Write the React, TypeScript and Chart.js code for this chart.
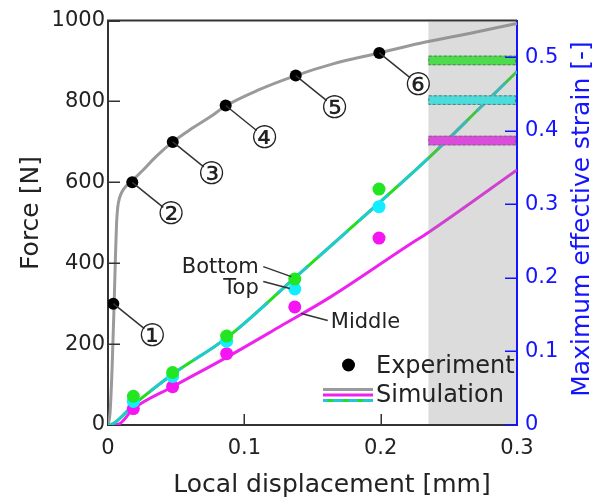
import React, { useEffect, useRef } from 'react';
import { Chart, registerables } from 'chart.js';

Chart.register(...registerables);

// ---- Data ----
// Force-displacement simulation (grey curve), left axis
const simDisp = [0, 0.0015, 0.003, 0.0045, 0.0055, 0.0063, 0.0072, 0.0085, 0.0105, 0.013, 0.018, 0.025, 0.035, 0.0475, 0.06, 0.075, 0.0863, 0.11, 0.1377, 0.165, 0.199, 0.229, 0.265, 0.3];
const simForce = [0, 30, 140, 300, 420, 500, 540, 562, 578, 590, 605, 628, 663, 700, 730, 762, 789, 828, 864, 893, 920, 944, 968, 993];

// Force-displacement experiment points
const expDisp = [0.0039, 0.0178, 0.0475, 0.0863, 0.1377, 0.199];
const expForce = [300, 600, 700, 790, 864, 920];
const expMarkers = ['①', '②', '③', '④', '⑤', '⑥'];

// Strain experiment points, right axis
const strainDisp = [0.0186, 0.0474, 0.087, 0.137, 0.1988];
const strainBottom = [0.039, 0.0714, 0.121, 0.1985, 0.321];
const strainTop = [0.032, 0.066, 0.114, 0.185, 0.297];
const strainMiddle = [0.0224, 0.0522, 0.097, 0.1606, 0.2543];

// Strain simulation curves, right axis
const simStrainDisp = [0, 0.004, 0.0186, 0.0474, 0.087, 0.136, 0.1848, 0.235, 0.2753, 0.3];
const simStrainBottom = [0, 0.002, 0.027, 0.069, 0.1185, 0.1985, 0.279, 0.363, 0.436, 0.481];
const simStrainTop = [0, 0.002, 0.027, 0.069, 0.1185, 0.1985, 0.279, 0.363, 0.436, 0.481];
const simMidDisp = [0, 0.0075, 0.0186, 0.0474, 0.087, 0.1262, 0.163, 0.2215, 0.235, 0.3];
const simStrainMiddle = [0, 0.001, 0.022, 0.052, 0.092, 0.134, 0.174, 0.246, 0.262, 0.347];

// Shaded region and strain bands inside it
const shadeFrom = 0.235;
const shadeTo = 0.3;
const bandLevels = [0.496, 0.442, 0.387];
const bandHalf = 0.0065;

// Ticks
const xTicks = [0, 0.1, 0.2, 0.3];
const yTicks = [0, 200, 400, 600, 800, 1000];
const y2Ticks = [0, 0.1, 0.2, 0.3, 0.4, 0.5];
const y2Max = 0.5502;

const FONT = "'DejaVu Sans', Verdana, sans-serif";
const TEXT = '#222222';
const BLUE = '#1414ff';
const GREEN_DOT = '#22e622';
const CYAN_DOT = '#12eeff';
const MAG_DOT = '#f414f4';
const GREEN_LINE = '#22dd22';
const CYAN_LINE = '#22c8d2';
const MAG_LINE = '#ee22ee';
const GREY_LINE = '#9a9a9a';
const BAND_COLORS = ['#4cdc4c', '#4cdcdc', '#dc4cdc'];

const pts = (xs: number[], ys: number[]) => xs.map((x, i) => ({ x, y: ys[i] }));
const fmt = (v: number) => String(Number(v.toFixed(1)));

const deco = {
  id: 'deco',
  afterDatasetsDraw(chart: any) {
    const { ctx, chartArea: ca, scales } = chart;
    const xs = scales.x, ys = scales.y, y2 = scales.y2;
    ctx.save();

    // shaded region overlay
    const sx = xs.getPixelForValue(shadeFrom);
    const ex = xs.getPixelForValue(shadeTo);
    ctx.fillStyle = 'rgba(140,140,140,0.3)';
    ctx.fillRect(sx, ca.top + 1, ex - 1 - sx, ca.bottom - ca.top - 2);

    // bands
    bandLevels.forEach((lv, i) => {
      const t = y2.getPixelForValue(lv + bandHalf);
      const b = y2.getPixelForValue(lv - bandHalf);
      ctx.fillStyle = BAND_COLORS[i];
      ctx.fillRect(sx, t, ex - 1 - sx, b - t);
      ctx.setLineDash([3, 2]);
      ctx.strokeStyle = '#707070';
      ctx.lineWidth = 1;
      ctx.strokeRect(sx + 0.5, t + 0.5, ex - 2 - sx, b - t - 1);
      ctx.setLineDash([]);
    });

    // top border
    ctx.strokeStyle = '#333';
    ctx.lineWidth = 2;
    ctx.beginPath();
    ctx.moveTo(ca.left - 1, ca.top);
    ctx.lineTo(ca.right, ca.top);
    ctx.stroke();

    // inward tick marks
    ctx.lineWidth = 1.5;
    ctx.strokeStyle = '#333';
    yTicks.forEach((v) => {
      const p = Math.round(ys.getPixelForValue(v)) + 0.25;
      if (v === 0) return;
      ctx.beginPath(); ctx.moveTo(ca.left, p); ctx.lineTo(ca.left + 12, p); ctx.stroke();
    });
    xTicks.forEach((v) => {
      if (v === 0 || v === 0.3) return;
      const p = Math.round(xs.getPixelForValue(v)) + 0.25;
      ctx.beginPath(); ctx.moveTo(p, ca.bottom); ctx.lineTo(p, ca.bottom - 11); ctx.stroke();
    });
    ctx.strokeStyle = BLUE;
    y2Ticks.forEach((v) => {
      const p = Math.round(y2.getPixelForValue(v)) + (v === 0 ? 0 : 0.25);
      ctx.beginPath(); ctx.moveTo(ca.right, p); ctx.lineTo(ca.right - 12, p); ctx.stroke();
    });

    // leader lines + circled markers
    ctx.strokeStyle = '#333';
    ctx.lineWidth = 1.5;
    ctx.fillStyle = TEXT;
    ctx.font = `31px ${FONT}`;
    ctx.textAlign = 'center';
    ctx.textBaseline = 'middle';
    expDisp.forEach((d, i) => {
      const px = xs.getPixelForValue(d);
      const py = ys.getPixelForValue(expForce[i]);
      const cx = px + 39, cy = py + 33;
      ctx.beginPath(); ctx.moveTo(px, py); ctx.lineTo(cx - 8, cy - 8); ctx.stroke();
      ctx.fillText(expMarkers[i], cx, cy + 1);
    });

    // Bottom / Top / Middle labels
    const bx = xs.getPixelForValue(strainDisp[3]);
    const gy = y2.getPixelForValue(strainBottom[3]);
    const cyy = y2.getPixelForValue(strainTop[3]);
    const my = y2.getPixelForValue(strainMiddle[3]);
    ctx.font = `21px ${FONT}`;
    ctx.textBaseline = 'alphabetic';
    ctx.beginPath(); ctx.moveTo(bx - 31.5, gy - 12.5); ctx.lineTo(bx - 3.5, gy - 2.5); ctx.stroke();
    ctx.beginPath(); ctx.moveTo(bx - 31.5, cyy - 7.5); ctx.lineTo(bx - 5, cyy - 0.5); ctx.stroke();
    ctx.beginPath(); ctx.moveTo(bx + 6.5, my + 6.5); ctx.lineTo(bx + 33, my + 13.5); ctx.stroke();
    ctx.textAlign = 'right';
    ctx.fillText('Bottom', bx - 36, gy - 6.5);
    ctx.fillText('Top', bx - 36, cyy + 4.5);
    ctx.textAlign = 'left';
    ctx.fillText('Middle', bx + 36, my + 21.5);

    // legend
    ctx.font = `24px ${FONT}`;
    ctx.fillStyle = '#000';
    ctx.beginPath(); ctx.arc(348.5, 365, 6.5, 0, Math.PI * 2); ctx.fill();
    ctx.fillStyle = TEXT;
    ctx.fillText('Experiment', 376, 373);
    ctx.fillText('Simulation', 376, 402);
    ctx.lineWidth = 3.2;
    const lx0 = 323, lx1 = 373;
    ctx.strokeStyle = GREY_LINE;
    ctx.beginPath(); ctx.moveTo(lx0, 389.5); ctx.lineTo(lx1, 389.5); ctx.stroke();
    ctx.strokeStyle = MAG_LINE;
    ctx.beginPath(); ctx.moveTo(lx0, 395); ctx.lineTo(lx1, 395); ctx.stroke();
    ctx.strokeStyle = CYAN_LINE;
    ctx.beginPath(); ctx.moveTo(lx0, 400.5); ctx.lineTo(lx1, 400.5); ctx.stroke();
    ctx.strokeStyle = GREEN_LINE;
    ctx.setLineDash([5, 10]);
    ctx.lineDashOffset = -5;
    ctx.beginPath(); ctx.moveTo(lx0, 400.5); ctx.lineTo(lx1, 400.5); ctx.stroke();
    ctx.setLineDash([]);

    // axis titles
    ctx.font = `25px ${FONT}`;
    ctx.fillStyle = TEXT;
    ctx.textAlign = 'center';
    ctx.textBaseline = 'alphabetic';
    ctx.fillText('Local displacement [mm]', 332, 491.5);
    ctx.save();
    ctx.translate(38, 213);
    ctx.rotate(-Math.PI / 2);
    ctx.fillText('Force [N]', 0, 0);
    ctx.restore();
    ctx.save();
    ctx.fillStyle = BLUE;
    ctx.translate(589, 219);
    ctx.rotate(-Math.PI / 2);
    ctx.fillText('Maximum effective strain [-]', 0, 0);
    ctx.restore();

    ctx.restore();
  },
};

export default function App() {
  const ref = useRef<HTMLCanvasElement | null>(null);
  useEffect(() => {
    if (!ref.current) return;
    Chart.defaults.font.family = FONT;
    const lineDs = (label: string, data: any[], color: string, axis: string, order: number, extra: any = {}) => ({
      label, data, borderColor: color, backgroundColor: color, borderWidth: 3, pointRadius: 0,
      cubicInterpolationMode: 'monotone', yAxisID: axis, order, ...extra,
    });
    const dotDs = (label: string, data: any[], color: string, axis: string, order: number, r: number) => ({
      label, data, showLine: false, backgroundColor: color, borderColor: color, borderWidth: 0,
      pointRadius: r, pointHoverRadius: r, yAxisID: axis, order,
    });
    const chart = new Chart(ref.current, {
      type: 'line',
      data: {
        datasets: [
          lineDs('Simulation force', pts(simDisp, simForce), GREY_LINE, 'y', 20),
          lineDs('Simulation middle', pts(simMidDisp, simStrainMiddle), MAG_LINE, 'y2', 19),
          lineDs('Simulation bottom', pts(simStrainDisp, simStrainBottom), GREEN_LINE, 'y2', 18),
          lineDs('Simulation top', pts(simStrainDisp, simStrainTop), CYAN_LINE, 'y2', 17, { borderDash: [40, 14] }),
          dotDs('Middle', pts(strainDisp, strainMiddle), MAG_DOT, 'y2', 5, 6.5),
          dotDs('Top', pts(strainDisp, strainTop), CYAN_DOT, 'y2', 4, 6.5),
          dotDs('Bottom', pts(strainDisp, strainBottom), GREEN_DOT, 'y2', 3, 6.5),
          dotDs('Experiment', pts(expDisp, expForce), '#000000', 'y', 2, 6),
        ] as any,
      },
      options: {
        animation: false,
        responsive: true,
        maintainAspectRatio: false,
        events: [],
        layout: { padding: { top: 14, left: 0, right: 0, bottom: 0 } },
        plugins: { legend: { display: false }, tooltip: { enabled: false } },
        scales: {
          x: {
            type: 'linear', min: 0, max: 0.3,
            grid: { display: false, drawTicks: false },
            border: { display: true, color: '#333', width: 2 },
            ticks: { autoSkip: false, maxRotation: 0, padding: 11, color: TEXT, font: { size: 21 }, callback: (v: any) => fmt(Number(v)) },
            afterBuildTicks: (s: any) => { s.ticks = xTicks.map((value) => ({ value })); },
            afterFit: (s: any) => { s.height = 73; },
          },
          y: {
            type: 'linear', position: 'left', min: 0, max: 1000,
            grid: { display: false, drawTicks: false },
            border: { display: true, color: '#333', width: 2 },
            ticks: { autoSkip: false, padding: 3, color: TEXT, font: { size: 21 }, callback: (v: any) => String(v) },
            afterBuildTicks: (s: any) => { s.ticks = yTicks.map((value) => ({ value })); },
            afterFit: (s: any) => { s.width = 108; },
          },
          y2: {
            type: 'linear', position: 'right', min: 0, max: y2Max,
            grid: { display: false, drawTicks: false },
            border: { display: true, color: BLUE, width: 2 },
            ticks: { autoSkip: false, padding: 8, color: BLUE, font: { size: 21 }, callback: (v: any) => fmt(Number(v)) },
            afterBuildTicks: (s: any) => { s.ticks = y2Ticks.map((value) => ({ value })); },
            afterFit: (s: any) => { s.width = 86; },
          },
        },
      } as any,
      plugins: [deco],
    });
    return () => chart.destroy();
  }, []);
  return (
    <div style={{ position: 'fixed', left: 0, top: 0, width: 603, height: 498, background: '#fff' }}>
      <canvas ref={ref} />
    </div>
  );
}
